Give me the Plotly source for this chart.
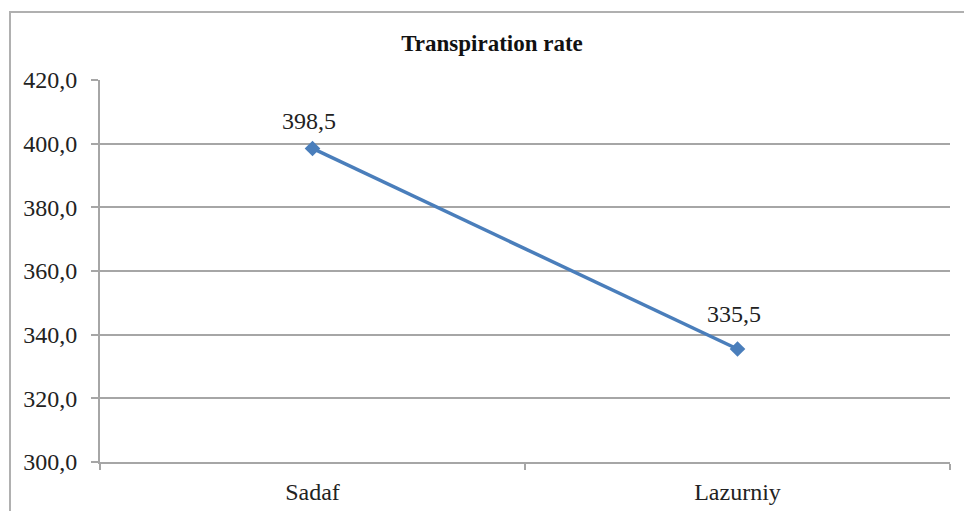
import plotly.graph_objects as go

varieties = ["Sadaf", "Lazurniy"]
transpiration = [398.5, 335.5]
value_labels = ["398,5", "335,5"]
y_ticks = [300, 320, 340, 360, 380, 400, 420]
y_tick_labels = ["300,0", "320,0", "340,0", "360,0", "380,0", "400,0", "420,0"]

# vertical lift of each value label above its marker (px)
label_lift = [27, 35]

serif = "Liberation Serif, Times New Roman, serif"
line_blue = "#4a7ebb"
grid_grey = "#a6a6a6"
text_col = "#222222"

fig = go.Figure()
fig.add_trace(go.Scatter(
    x=varieties,
    y=transpiration,
    mode="lines+markers",
    line=dict(color=line_blue, width=3.5),
    marker=dict(symbol="diamond", size=12, color=line_blue),
    cliponaxis=False,
    showlegend=False,
))

for name, val, lab, lift in zip(varieties, transpiration, value_labels, label_lift):
    fig.add_annotation(
        x=name, y=val, text=lab,
        showarrow=False,
        xshift=-4, yshift=lift,
        font=dict(family=serif, size=24, color=text_col),
    )

fig.update_layout(
    width=964,
    height=511,
    margin=dict(l=100, r=14, t=80, b=49),
    paper_bgcolor="white",
    plot_bgcolor="white",
    font=dict(family=serif, size=24, color=text_col),
    title=dict(
        text="<b>Transpiration rate</b>",
        x=492 / 964,
        xref="container",
        xanchor="center",
        y=1 - 43 / 511,
        yref="container",
        yanchor="middle",
        font=dict(family=serif, size=23, color="#111111"),
    ),
    xaxis=dict(
        type="category",
        range=[-0.5, 1.5],
        tickson="boundaries",
        ticks="outside",
        ticklen=6,
        tickcolor=grid_grey,
        tickwidth=2,
        showline=True,
        linecolor=grid_grey,
        linewidth=2,
        showgrid=False,
        automargin=False,
        tickfont=dict(family=serif, size=24, color=text_col),
        ticklabelstandoff=7,
    ),
    yaxis=dict(
        range=[300, 420],
        tickvals=y_ticks,
        ticktext=y_tick_labels,
        ticks="outside",
        ticklen=7,
        tickcolor=grid_grey,
        tickwidth=2,
        showline=True,
        linecolor=grid_grey,
        linewidth=2,
        showgrid=True,
        gridcolor=grid_grey,
        gridwidth=2,
        zeroline=False,
        automargin=False,
        tickfont=dict(family=serif, size=24, color=text_col),
        ticklabelstandoff=9,
    ),
)

# chart-area frame (open on the right and bottom, cropped by the page)
fig.add_shape(
    type="path",
    xref="paper", yref="paper",
    path="M {x0},{y0} L {x0},{y1} L {x2},{y1}".format(
        x0=(10 - 100) / 850, y0=(80 - 520) / 382 + 1,
        y1=1 + (80 - 12) / 382, x2=(970 - 100) / 850,
    ),
    line=dict(color="#b0b0b0", width=2),
    layer="below",
)

fig.write_html("out.html")
